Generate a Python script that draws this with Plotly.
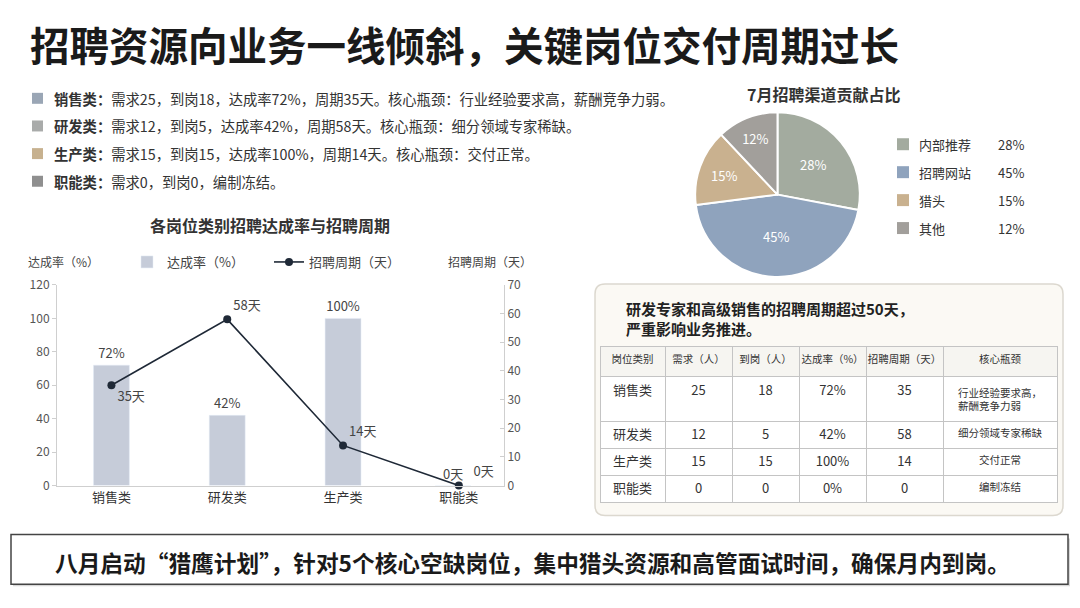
import plotly.graph_objects as go

W, H = 1080, 608
FONT = "Noto Sans CJK SC"

# data
roles = ['销售类', '研发类', '生产类', '职能类']
rate = [72, 42, 100, 0]
rate_text = ['72%', '42%', '100%', '0天']
cycle = [35, 58, 14, 0]
cycle_text = ['35天', '58天', '14天', '\u00a0\u00a0\u00a00天']
demand = [25, 12, 15, 0]
arrived = [18, 5, 15, 0]
bottleneck = ['行业经验要求高，<br>薪酬竞争力弱', '细分领域专家稀缺', '交付正常', '编制冻结']

channels = ['内部推荐', '招聘网站', '猎头', '其他']
channel_share = [28, 45, 15, 12]
channel_colors = ['#a3ab9f', '#8fa3bd', '#c9b18f', '#a29f9b']

bullets = [
    ('销售类', '需求25，到岗18，达成率72%，周期35天。核心瓶颈：行业经验要求高，薪酬竞争力弱。', '#9aa6b5'),
    ('研发类', '需求12，到岗5，达成率42%，周期58天。核心瓶颈：细分领域专家稀缺。', '#a9abaa'),
    ('生产类', '需求15，到岗15，达成率100%，周期14天。核心瓶颈：交付正常。', '#c7b18f'),
    ('职能类', '需求0，到岗0，编制冻结。', '#8f8f8f'),
]


def px(x):
    return x / W


def py(y):
    # the screenshot comes out slightly squeezed vertically, undo that
    return 1 - ((y - 10.5) / 0.974) / H


fig = go.Figure()

fig.add_trace(go.Bar(
    x=roles, y=rate, name='达成率（%）', width=0.31,
    offset=[-0.155, -0.155, -0.155, -0.205],  # nudge the empty bar's label off the line label
    marker_color='#c6ccd9', text=rate_text, textposition='outside',
    textfont=dict(size=13, color='#444'), cliponaxis=False,
    yaxis='y', legend='legend'))

fig.add_trace(go.Scatter(
    x=roles, y=cycle, name='招聘周期（天）', mode='lines+markers+text',
    line=dict(color='#1f2937', width=1.6), marker=dict(size=8, color='#1f2937'),
    text=cycle_text, textposition=['bottom right', 'top right', 'top right', 'top right'],
    textfont=dict(size=13, color='#444'), cliponaxis=False,
    yaxis='y2', legend='legend'))

fig.add_trace(go.Pie(
    labels=channels, values=channel_share, sort=False, direction='clockwise',
    marker=dict(colors=channel_colors, line=dict(color='white', width=2)),
    texttemplate='%{value}%', textposition='inside',
    textfont=dict(size=13, color='white'), showlegend=False,
    domain=dict(x=[px(695), px(860)], y=[py(278), py(113)])))

fig.add_trace(go.Table(
    domain=dict(x=[px(600), px(1057)], y=[py(507), py(348)]),
    columnwidth=[65, 67, 67, 67, 77, 114],
    header=dict(values=['岗位类别', '需求（人）', '到岗（人）', '达成率（%）', '招聘周期（天）', '核心瓶颈'],
                fill_color='#f6f5f1', line_color='#c4c4c4', align='center', height=30,
                font=dict(family=FONT, size=10.5, color='#333')),
    cells=dict(values=[roles, demand, arrived, [f'{v}%' for v in rate], cycle, bottleneck],
               fill_color='white', line_color='#c4c4c4', align='center', height=27,
               font=dict(family=FONT, size=[13, 13, 13, 13, 13, 10.5], color='#333'))))

shapes = []
annotations = []

# main title
annotations.append(dict(x=px(28), y=py(44), xref='paper', yref='paper', xanchor='left', yanchor='middle',
                        text='<b>招聘资源向业务一线倾斜，关键岗位交付周期过长</b>', showarrow=False,
                        font=dict(size=39.5, color='#1a1a1a')))

# bullets
for i, (k, t, c) in enumerate(bullets):
    yc = 99 + i * 27.7
    shapes.append(dict(type='rect', xref='paper', yref='paper', x0=px(32), x1=px(43), y0=py(yc + 5.5), y1=py(yc - 5.5),
                       fillcolor=c, line_width=0))
    annotations.append(dict(x=px(52), y=py(yc), xref='paper', yref='paper', xanchor='left', yanchor='middle',
                            text=f'<b>{k}：</b>{t}', showarrow=False, font=dict(size=14.3, color='#333')))

# chart titles
annotations.append(dict(x=px(270), y=py(226), xref='paper', yref='paper', xanchor='center', yanchor='middle',
                        text='<b>各岗位类别招聘达成率与招聘周期</b>', showarrow=False, font=dict(size=16, color='#333')))
annotations.append(dict(x=px(26), y=py(263), xref='paper', yref='paper', xanchor='left', yanchor='middle',
                        text='达成率（%）', showarrow=False, font=dict(size=12, color='#444')))
annotations.append(dict(x=px(534), y=py(263), xref='paper', yref='paper', xanchor='right', yanchor='middle',
                        text='招聘周期（天）', showarrow=False, font=dict(size=12, color='#444')))

# pie title and legend
annotations.append(dict(x=px(823), y=py(95), xref='paper', yref='paper', xanchor='center', yanchor='middle',
                        text='<b>7月招聘渠道贡献占比</b>', showarrow=False, font=dict(size=16, color='#333')))
for i, (n, v, c) in enumerate(zip(channels, channel_share, channel_colors)):
    yc = 145 + i * 28
    shapes.append(dict(type='rect', xref='paper', yref='paper', x0=px(897), x1=px(909), y0=py(yc + 6), y1=py(yc - 6),
                       fillcolor=c, line_width=0))
    annotations.append(dict(x=px(917), y=py(yc), xref='paper', yref='paper', xanchor='left', yanchor='middle',
                            text=n, showarrow=False, font=dict(size=13, color='#333')))
    annotations.append(dict(x=px(996), y=py(yc), xref='paper', yref='paper', xanchor='left', yanchor='middle',
                            text=f'{v}%', showarrow=False, font=dict(size=13, color='#333')))


# rounded box behind the table
def rounded(x0, y0, x1, y1, r):
    X = lambda v: f'{px(v):.5f}'
    Y = lambda v: f'{py(v):.5f}'
    return (f'M {X(x0 + r)},{Y(y0)} L {X(x1 - r)},{Y(y0)} Q {X(x1)},{Y(y0)} {X(x1)},{Y(y0 + r)} '
            f'L {X(x1)},{Y(y1 - r)} Q {X(x1)},{Y(y1)} {X(x1 - r)},{Y(y1)} '
            f'L {X(x0 + r)},{Y(y1)} Q {X(x0)},{Y(y1)} {X(x0)},{Y(y1 - r)} '
            f'L {X(x0)},{Y(y0 + r)} Q {X(x0)},{Y(y0)} {X(x0 + r)},{Y(y0)} Z')


shapes.append(dict(type='path', xref='paper', yref='paper', path=rounded(595, 285, 1063, 517, 10),
                   fillcolor='#fbf9f4', line=dict(color='#dcd8cf', width=1.5), layer='below'))
annotations.append(dict(x=px(624), y=py(320), xref='paper', yref='paper', xanchor='left', yanchor='middle', align='left',
                        text='<b>研发专家和高级销售的招聘周期超过50天，<br>严重影响业务推进。</b>', showarrow=False,
                        font=dict(size=15, color='#222')))

# bottom conclusion box
shapes.append(dict(type='rect', xref='paper', yref='paper', x0=px(13), x1=px(1070), y0=py(588), y1=py(540),
                   fillcolor='#d8d8d8', line_width=0, layer='below'))
shapes.append(dict(type='rect', xref='paper', yref='paper', x0=px(11), x1=px(1068), y0=py(586), y1=py(536),
                   fillcolor='white', line=dict(color='#444', width=1.5), layer='below'))
annotations.append(dict(x=px(532), y=py(564), xref='paper', yref='paper', xanchor='center', yanchor='middle',
                        text='<b>八月启动“猎鹰计划”，针对5个核心空缺岗位，集中猎头资源和高管面试时间，确保月内到岗。</b>',
                        showarrow=False, font=dict(size=22.7, color='#1a1a1a')))

fig.update_layout(
    width=W, height=H, margin=dict(l=0, r=0, t=0, b=0),
    paper_bgcolor='white', plot_bgcolor='rgba(0,0,0,0)',
    font=dict(family=FONT, color='#333'),
    xaxis=dict(domain=[px(57), px(504)], range=[-0.47, 3.39], showline=True, linecolor='#cfcfcf',
               ticks='', tickfont=dict(size=13, color='#333'), showgrid=False, fixedrange=True),
    yaxis=dict(domain=[py(487), py(286)], range=[0, 120], dtick=20, showline=True, linecolor='#cfcfcf',
               ticks='outside', ticklen=4, tickcolor='#cfcfcf', showgrid=False, zeroline=False,
               tickfont=dict(size=12, color='#555')),
    yaxis2=dict(overlaying='y', side='right', range=[0, 70], dtick=10, showline=True, linecolor='#cfcfcf',
                ticks='inside', ticklen=4, tickcolor='#cfcfcf', showgrid=False, zeroline=False,
                tickfont=dict(size=12, color='#555'), anchor='x'),
    legend=dict(orientation='h', x=px(127), y=py(263), xanchor='left', yanchor='middle',
                font=dict(size=13, color='#444'), entrywidth=97, bgcolor='rgba(0,0,0,0)'),
    shapes=shapes, annotations=annotations,
)

# pin the figure to the top-left corner of the page
pin = ("document.body.style.margin='0';document.body.style.overflow='hidden';"
       "var g=document.getElementsByClassName('plotly-graph-div')[0];"
       "g.style.position='fixed';g.style.left='0px';g.style.top='0px';")
fig.write_html('out.html', config={'displayModeBar': False}, post_script=pin)
